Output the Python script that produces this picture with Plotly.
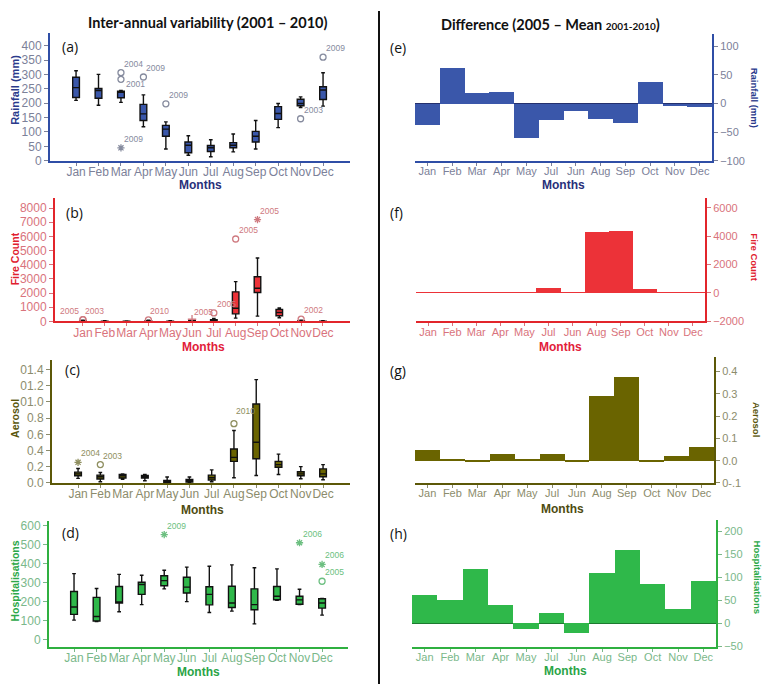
import plotly.graph_objects as go

# screenshot size and page body offset (browser default body margin)
SW, SH = 775, 691
OFF = 8
W, H = SW - OFF, SH - OFF

months = ["Jan", "Feb", "Mar", "Apr", "May", "Jun", "Jul", "Aug", "Sep", "Oct", "Nov", "Dec"]
diff_months = ["Jan", "Feb", "Mar", "Apr", "May", "Jul", "Jun", "Aug", "Sep", "Oct", "Nov", "Dec"]

# ---- (a) Rainfall box statistics (mm) ----
rain_low = [210, 193, 203, 118, 41, 19, 14, 31, 41, 115, 185, 190]
rain_q1 = [220, 217, 219, 140, 85, 28, 32, 45, 65, 144, 191, 213]
rain_med = [254, 244, 238, 163, 110, 54, 45, 54, 85, 164, 199, 246]
rain_q3 = [290, 251, 242, 196, 123, 65, 53, 63, 102, 188, 214, 257]
rain_high = [313, 300, 244, 229, 135, 87, 73, 93, 140, 199, 222, 306]
rain_out_month = [2, 2, 2, 3, 4, 10, 11]
rain_out_value = [306, 283, 45, 291, 198, 146, 360]
rain_out_kind = ["o", "o", "*", "o", "o", "o", "o"]
rain_out_year = ["2004", "2001", "2009", "2009", "2009", "2003", "2009"]

# ---- (b) Fire count box statistics ----
fire_low = [0, 0, 0, 0, 0, 0, 0, 232, 371, 255, 0, 0]
fire_q1 = [5, 2, 2, 5, 2, 5, 20, 533, 2041, 394, 5, 2]
fire_med = [15, 5, 5, 15, 5, 15, 60, 928, 2342, 626, 15, 5]
fire_q3 = [40, 15, 15, 40, 15, 40, 120, 2087, 3154, 835, 40, 15]
fire_high = [80, 40, 30, 80, 40, 100, 200, 2806, 4476, 951, 80, 40]
fire_out_month = [0, 0, 3, 5, 6, 7, 8, 10]
fire_out_value = [120, 120, 100, 150, 600, 5820, 7189, 162]
fire_out_kind = ["o", "o", "o", "+", "o", "o", "*", "o"]
fire_out_year = ["2005", "2003", "2010", "2005", "2005", "2005", "2005", "2002"]

# ---- (c) Aerosol box statistics ----
aer_low = [0.057, 0.016, 0.045, 0.028, 0.0, 0.0, 0.016, 0.065, 0.093, 0.105, 0.053, 0.04]
aer_q1 = [0.089, 0.049, 0.061, 0.061, 0.004, 0.012, 0.036, 0.267, 0.30, 0.194, 0.089, 0.077]
aer_med = [0.113, 0.077, 0.089, 0.081, 0.016, 0.028, 0.065, 0.316, 0.502, 0.227, 0.113, 0.113]
aer_q3 = [0.134, 0.097, 0.105, 0.093, 0.032, 0.045, 0.097, 0.42, 0.975, 0.267, 0.138, 0.174]
aer_high = [0.178, 0.13, 0.113, 0.105, 0.073, 0.073, 0.162, 0.647, 1.275, 0.356, 0.202, 0.227]
aer_out_month = [0, 1, 7]
aer_out_value = [0.255, 0.227, 0.732]
aer_out_kind = ["*", "o", "o"]
aer_out_year = ["2004", "2003", "2010"]
aer_ticks = [0, 0.2, 0.4, 0.6, 0.8, 1.0, 1.2, 1.4]
aer_ticktext = ["0.0", "0.2", "0.4", "0.6", "0.8", "01.0", "01.2", "01.4"]

# ---- (d) Hospitalisations box statistics ----
hos_low = [103, 95, 147, 184, 267, 200, 143, 150, 83, 207, 184, 129]
hos_q1 = [133, 98, 193, 238, 283, 245, 183, 169, 157, 210, 186, 166]
hos_med = [172, 122, 198, 290, 310, 276, 238, 193, 184, 228, 209, 193]
hos_q3 = [253, 222, 279, 302, 336, 328, 278, 281, 267, 279, 228, 215]
hos_high = [347, 269, 343, 338, 365, 381, 386, 393, 378, 372, 265, 217]
hos_out_month = [4, 10, 11, 11]
hos_out_value = [552, 509, 395, 307]
hos_out_kind = ["*", "*", "*", "o"]
hos_out_year = ["2009", "2006", "2006", "2005"]

# ---- (e)-(h) Difference 2005 - mean (in diff_months order) ----
rain_diff = [-37, 62, 19, 21, -59, -29, -12, -26, -33, 38, -3.5, -5]
fire_diff = [15, 10, 5, 10, 5, 350, 5, 4250, 4350, 300, 10, 5]
aer_diff = [0.049, 0.01, -0.005, 0.031, 0.006, 0.032, -0.005, 0.291, 0.375, -0.004, 0.023, 0.062]
hosp_diff = [60, 51, 117, 39, -13, 21, -21, 109, 159, 84, 31, 91]

# ---------------- styling ----------------
BLUE = dict(axis="#2f4ea6", fill="#3a57aa", tick="#7c8199", title="#2a3a8c", months="#28307a", label="#868b9e")
RED = dict(axis="#e2252b", fill="#ec3238", tick="#d9737c", title="#e0202e", months="#e2203a", label="#cf7a80")
OLIVE = dict(axis="#5c5808", fill="#6a6400", tick="#8c8c6c", title="#5a560c", months="#4e4b10", label="#8f8f60")
GREEN = dict(axis="#2fb040", fill="#2fb84a", tick="#7ab88a", title="#2ca848", months="#2aa446", label="#6cbf80")

TICKFONT = "Liberation Sans, Arial, sans-serif"


def px(x):
    return (x - OFF) / W


def py(y):
    return 1 - (y - OFF) / H


def paper_note(x, y, text, font, angle=0, xanchor="center"):
    return dict(x=px(x), y=py(y), xref="paper", yref="paper", text=text, textangle=angle,
                showarrow=False, xanchor=xanchor, yanchor="middle", font=font)


fig = go.Figure()
annotations = []
layout_axes = {}

left_panels = [
    dict(id=1, col=BLUE, dom=(50, 350, 30, 160), xr=[-1.16, 12.2], yr=[0, 445],
         yt=list(range(0, 401, 50)), ytt=None,
         stats=(rain_low, rain_q1, rain_med, rain_q3, rain_high),
         out=(rain_out_month, rain_out_value, rain_out_kind, rain_out_year),
         ytitle="Rainfall (mm)", ytsize=11, ytpos=(15, 88), lab="(a)", labpos=(60, 44),
         mpos=(200, 185)),
    dict(id=2, col=RED, dom=(55, 350, 198, 323), xr=[-1.28, 12.24], yr=[0, 8700],
         yt=list(range(0, 8001, 1000)), ytt=None,
         stats=(fire_low, fire_q1, fire_med, fire_q3, fire_high),
         out=(fire_out_month, fire_out_value, fire_out_kind, fire_out_year),
         ytitle="Fire Count", ytsize=10.5, ytpos=(15, 260), lab="(b)", labpos=(64, 213),
         mpos=(203, 349)),
    dict(id=3, col=OLIVE, dom=(52, 350, 362, 487), xr=[-1.17, 12.21], yr=[0, 1.52],
         yt=aer_ticks, ytt=aer_ticktext,
         stats=(aer_low, aer_q1, aer_med, aer_q3, aer_high),
         out=(aer_out_month, aer_out_value, aer_out_kind, aer_out_year),
         ytitle="Aerosol", ytsize=10.5, ytpos=(15, 422), lab="(c)", labpos=(63, 372),
         mpos=(202, 514)),
    dict(id=4, col=GREEN, dom=(49, 348, 526, 653), xr=[-1.11, 12.15], yr=[-36, 621],
         yt=list(range(0, 601, 100)), ytt=None,
         stats=(hos_low, hos_q1, hos_med, hos_q3, hos_high),
         out=(hos_out_month, hos_out_value, hos_out_kind, hos_out_year),
         ytitle="Hospitalisations", ytsize=10.5, ytpos=(15, 587), lab="(d)", labpos=(60, 537),
         mpos=(198, 679)),
]

# label offsets (pixels) for outlier year labels: (panel id, index) -> (xshift, yshift, xanchor)
label_shift = {
    (1, 1): (3, -12, "left"),
    (2, 0): (-2, 2, "right"),
    (2, 1): (0, 2, "left"),
    (2, 2): (0, 2, "left"),
    (2, 3): (0, 0, "left"),
    (3, 2): (0, 6, "left"),
}

for p in left_panels:
    i = p["id"]
    c = p["col"]
    xa = "x" if i == 1 else f"x{i}"
    ya = "y" if i == 1 else f"y{i}"
    low, q1, med, q3, high = p["stats"]
    fig.add_trace(go.Box(
        x=list(range(12)), lowerfence=low, q1=q1, median=med, q3=q3, upperfence=high,
        fillcolor=c["fill"], line=dict(color="#111111", width=1.4),
        width=0.3, whiskerwidth=0.55, boxpoints=False, xaxis=xa, yaxis=ya,
        showlegend=False, hoverinfo="skip"))
    om, ov, ok, oy = p["out"]
    sym_map = {"o": "circle-open", "*": "asterisk-open", "+": "cross-thin-open"}
    fig.add_trace(go.Scatter(
        x=om, y=ov, mode="markers", xaxis=xa, yaxis=ya, showlegend=False,
        marker=dict(symbol=[sym_map[k] for k in ok], size=6, color=c["label"],
                    line=dict(color=c["label"], width=1.3)),
        hoverinfo="skip"))
    for j, (m, v, yr_) in enumerate(zip(om, ov, oy)):
        xs, ys, anc = label_shift.get((i, j), (1, 2, "left"))
        annotations.append(dict(x=m, y=v, xref=xa, yref=ya, text=yr_, showarrow=False,
                                xanchor=anc, yanchor="bottom", xshift=xs, yshift=ys,
                                font=dict(family=TICKFONT, size=8.5, color=c["label"])))
    x0, x1, t, b = p["dom"]
    key = "" if i == 1 else str(i)
    layout_axes["xaxis" + key] = dict(
        domain=[px(x0), px(x1)], range=p["xr"], anchor=ya, showgrid=False, zeroline=False,
        showline=True, linecolor=c["axis"], linewidth=2, ticks="outside", ticklen=3,
        tickcolor=c["tick"], tickvals=list(range(12)), ticktext=months, tickangle=0,
        ticklabelstandoff=-4,
        tickfont=dict(family=TICKFONT, size=12, color=c["tick"]))
    ya_d = dict(
        domain=[py(b), py(t)], range=p["yr"], anchor=xa, showgrid=False, zeroline=False,
        showline=True, linecolor=c["axis"], linewidth=2, ticks="outside", ticklen=4,
        tickcolor=c["tick"], tickvals=p["yt"],
        tickfont=dict(family=TICKFONT, size=12, color=c["tick"]))
    if p["ytt"] is not None:
        ya_d["ticktext"] = p["ytt"]
    layout_axes["yaxis" + key] = ya_d
    annotations.append(paper_note(p["ytpos"][0], p["ytpos"][1], f"<b>{p['ytitle']}</b>",
                                  dict(family=TICKFONT, size=p["ytsize"], color=c["title"]), angle=-90))
    annotations.append(paper_note(p["mpos"][0], p["mpos"][1], "<b>Months</b>",
                                  dict(family=TICKFONT, size=12, color=c["months"])))
    annotations.append(paper_note(p["labpos"][0], p["labpos"][1], p["lab"],
                                  dict(family="Open Sans, sans-serif", size=14, color="#111111"),
                                  xanchor="left"))

right_panels = [
    dict(id=5, col=BLUE, dom=(415, 712, 31, 160), yr=[-100, 122], yt=[-100, -50, 0, 50, 100],
         ytt=None, vals=rain_diff, ytitle="Rainfall (mm)", ytpos=(754, 96), lab="(e)",
         labpos=(388, 45), mpos=(563, 185), zl="#24306e"),
    dict(id=6, col=RED, dom=(416, 705, 198, 323), yr=[-2000, 6670], yt=[-2000, 0, 2000, 4000, 6000],
         ytt=None, vals=fire_diff, ytitle="Fire Count", ytpos=(755, 258), lab="(f)",
         labpos=(388, 213), mpos=(560, 349), zl="#8a1a1e"),
    dict(id=7, col=OLIVE, dom=(415, 714, 359, 487), yr=[-0.1, 0.465],
         yt=[-0.1, 0, 0.1, 0.2, 0.3, 0.4], ytt=["0-.1", "0.0", "0.1", "0.2", "0.3", "0.4"],
         vals=aer_diff, ytitle="Aerosol", ytpos=(756, 422), lab="(g)",
         labpos=(388, 373), mpos=(562, 513), zl="#2e2c00"),
    dict(id=8, col=GREEN, dom=(412, 716, 525, 653), yr=[-50, 224], yt=[-50, 0, 50, 100, 150, 200],
         ytt=None, vals=hosp_diff, ytitle="Hospitalisations", ytpos=(757, 582), lab="(h)",
         labpos=(388, 538), mpos=(565, 678), zl="#1d7a30"),
]

for p in right_panels:
    i = p["id"]
    c = p["col"]
    xa, ya = f"x{i}", f"y{i}"
    fig.add_trace(go.Bar(
        x=list(range(12)), y=p["vals"], width=1.0, marker=dict(color=c["fill"], line=dict(width=0)),
        xaxis=xa, yaxis=ya, showlegend=False, hoverinfo="skip"))
    x0, x1, t, b = p["dom"]
    layout_axes[f"xaxis{i}"] = dict(
        domain=[px(x0), px(x1)], range=[-0.5, 11.5], anchor=ya, showgrid=False, zeroline=False,
        showline=True, linecolor=c["axis"], linewidth=2, ticks="outside", ticklen=3,
        tickcolor=c["tick"], tickvals=list(range(12)), ticktext=diff_months, tickangle=0,
        ticklabelstandoff=-4,
        tickfont=dict(family=TICKFONT, size=11, color=c["tick"]))
    yd = dict(
        domain=[py(b), py(t)], range=p["yr"], anchor=xa, side="right", showgrid=False,
        zeroline=True, zerolinecolor=p["zl"], zerolinewidth=1,
        showline=True, linecolor=c["axis"], linewidth=2, ticks="outside", ticklen=4,
        tickcolor=c["tick"], tickvals=p["yt"],
        tickfont=dict(family=TICKFONT, size=11, color=c["tick"]))
    if p["ytt"] is not None:
        yd["ticktext"] = p["ytt"]
    layout_axes[f"yaxis{i}"] = yd
    annotations.append(paper_note(p["ytpos"][0], p["ytpos"][1], f"<b>{p['ytitle']}</b>",
                                  dict(family=TICKFONT, size=9.5, color=c["title"]), angle=90))
    annotations.append(paper_note(p["mpos"][0], p["mpos"][1], "<b>Months</b>",
                                  dict(family=TICKFONT, size=12, color=c["months"])))
    annotations.append(paper_note(p["labpos"][0], p["labpos"][1], p["lab"],
                                  dict(family="Open Sans, sans-serif", size=14, color="#111111"),
                                  xanchor="left"))

# Titles
annotations.append(paper_note(207, 20, "<b>Inter-annual variability (2001 – 2010)</b>",
                              dict(family="Lato, sans-serif", size=14.5, color="#111111")))
annotations.append(paper_note(550, 22,
                              "<b>Difference (2005 – Mean <span style='font-size:10px'>2001-2010</span>)</b>",
                              dict(family="Lato, sans-serif", size=14.5, color="#111111")))

fig.update_layout(
    width=W, height=H, margin=dict(l=0, r=0, t=0, b=0),
    paper_bgcolor="white", plot_bgcolor="white",
    bargap=0, showlegend=False, annotations=annotations,
    shapes=[dict(type="line", xref="paper", yref="paper", x0=px(379), x1=px(379), y0=0, y1=1,
                 line=dict(color="#111111", width=2))],
    **layout_axes)

fig.write_html("out.html")
